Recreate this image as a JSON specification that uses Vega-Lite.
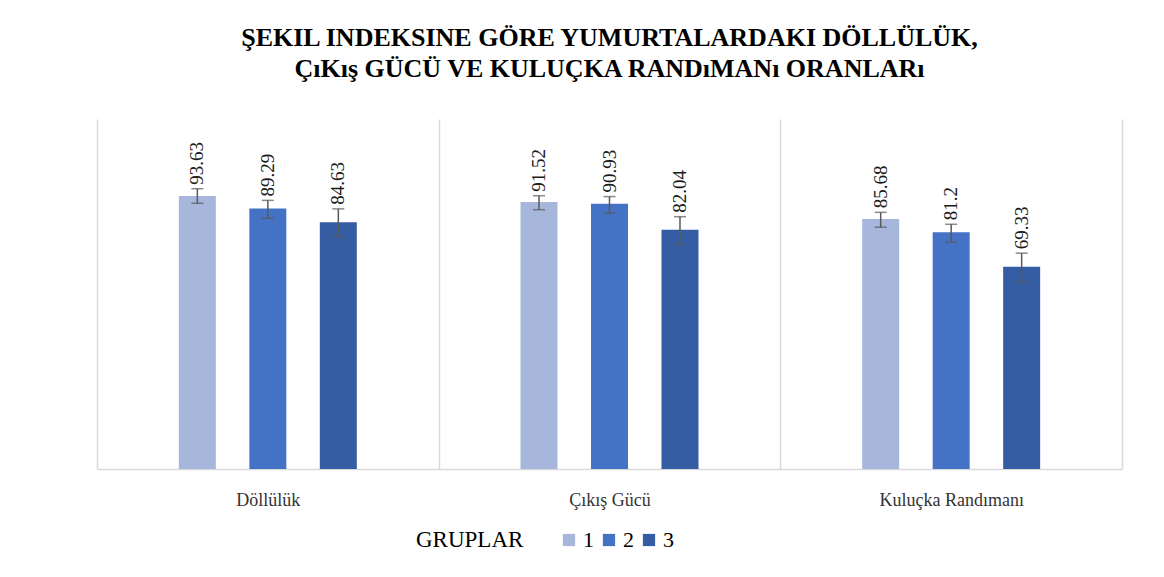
{
  "$schema": "https://vega.github.io/schema/vega-lite/v6.json",
  "width": 1025,
  "height": 350,
  "autosize": {"type": "none"},
  "padding": {"left": 97, "top": 119, "right": 42, "bottom": 108},
  "background": "white",
  "config": {"view": {"stroke": null}},
  "title": {
    "text": ["ŞEKIL INDEKSINE GÖRE YUMURTALARDAKI DÖLLÜLÜK,", "ÇıKış GÜCÜ VE KULUÇKA RANDıMANı ORANLARı"],
    "font": "Liberation Serif",
    "fontSize": 26,
    "fontWeight": "bold",
    "color": "#000000",
    "anchor": "middle",
    "lineHeight": 31,
    "offset": 37
  },
  "data": {
    "values": [
      {"kategori": "Döllülük", "grup": "1", "value": 93.63, "lo": 91.1, "hi": 96.1},
      {"kategori": "Döllülük", "grup": "2", "value": 89.29, "lo": 86.0, "hi": 92.1},
      {"kategori": "Döllülük", "grup": "3", "value": 84.63, "lo": 79.6, "hi": 89.2},
      {"kategori": "Çıkış Gücü", "grup": "1", "value": 91.52, "lo": 88.9, "hi": 93.7},
      {"kategori": "Çıkış Gücü", "grup": "2", "value": 90.93, "lo": 87.7, "hi": 93.4},
      {"kategori": "Çıkış Gücü", "grup": "3", "value": 82.04, "lo": 77.0, "hi": 86.5},
      {"kategori": "Kuluçka Randımanı", "grup": "1", "value": 85.68, "lo": 82.9, "hi": 88.0},
      {"kategori": "Kuluçka Randımanı", "grup": "2", "value": 81.2, "lo": 77.8, "hi": 83.9},
      {"kategori": "Kuluçka Randımanı", "grup": "3", "value": 69.33, "lo": 64.2, "hi": 74.0}
    ]
  },
  "encoding": {
    "x": {
      "field": "kategori",
      "type": "nominal",
      "sort": ["Döllülük", "Çıkış Gücü", "Kuluçka Randımanı"],
      "scale": {"paddingInner": 0, "paddingOuter": 0},
      "axis": {
        "title": null,
        "labelAngle": 0,
        "labelFont": "Liberation Serif",
        "labelFontSize": 18,
        "labelColor": "#333333",
        "labelPadding": 22,
        "ticks": false,
        "tickBand": "extent",
        "grid": true,
        "gridColor": "#d9d9d9",
        "gridWidth": 1.5,
        "domainColor": "#d9d9d9",
        "domainWidth": 1.5
      }
    },
    "xOffset": {
      "field": "grup",
      "type": "nominal",
      "scale": {"paddingInner": 0.153, "paddingOuter": 1}
    }
  },
  "layer": [
    {
      "mark": {"type": "bar", "width": 37},
      "encoding": {
        "y": {
          "field": "value",
          "type": "quantitative",
          "scale": {"domain": [0, 120]},
          "axis": null
        },
        "color": {
          "field": "grup",
          "type": "nominal",
          "scale": {"domain": ["1", "2", "3"], "range": ["#a7b6db", "#4472c4", "#345da3"]},
          "legend": {
            "title": "GRUPLAR",
            "orient": "none",
            "legendX": 319,
            "legendY": 410,
            "direction": "horizontal",
            "titleOrient": "left",
            "titleFont": "Liberation Serif",
            "titleFontSize": 23,
            "titleFontWeight": "normal",
            "titleColor": "#000000",
            "titlePadding": 34,
            "titleBaseline": "middle",
            "labelFont": "Liberation Serif",
            "labelFontSize": 22,
            "labelColor": "#000000",
            "labelOffset": 3,
            "symbolType": "square",
            "symbolSize": 150,
            "symbolStrokeWidth": 0,
            "columnPadding": 4
          }
        }
      }
    },
    {
      "mark": {"type": "rule", "color": "#595959", "strokeWidth": 1.5},
      "encoding": {
        "y": {"field": "lo", "type": "quantitative"},
        "y2": {"field": "hi"}
      }
    },
    {
      "mark": {"type": "tick", "color": "#595959", "thickness": 1.5, "size": 12, "orient": "horizontal"},
      "encoding": {"y": {"field": "lo", "type": "quantitative"}}
    },
    {
      "mark": {"type": "tick", "color": "#595959", "thickness": 1.5, "size": 12, "orient": "horizontal"},
      "encoding": {"y": {"field": "hi", "type": "quantitative"}}
    },
    {
      "mark": {
        "type": "text",
        "angle": 270,
        "align": "left",
        "baseline": "middle",
        "dx": 4,
        "font": "Liberation Serif",
        "fontSize": 19,
        "color": "#1a1a1a"
      },
      "encoding": {
        "y": {"field": "hi", "type": "quantitative"},
        "text": {"field": "value", "type": "nominal"}
      }
    }
  ]
}
